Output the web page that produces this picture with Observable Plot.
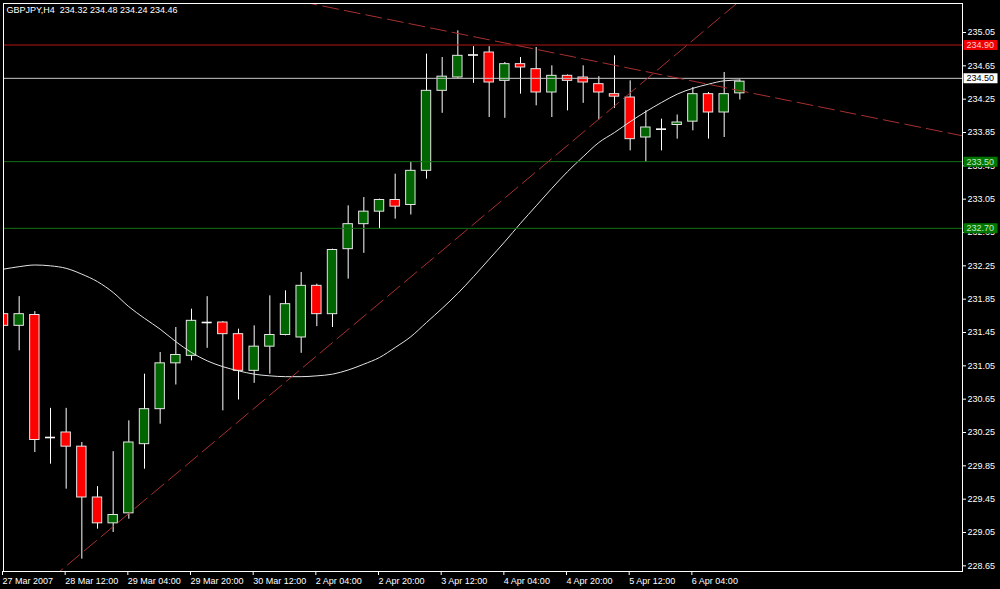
<!DOCTYPE html>
<html><head><meta charset="utf-8">
<script src="https://cdn.jsdelivr.net/npm/d3@7"></script>
<script src="https://cdn.jsdelivr.net/npm/@observablehq/plot@0.6"></script>
<style>html,body{margin:0;padding:0;background:#000;overflow:hidden}</style>
</head><body><div id="chart"></div>
<script>
// ---------- data ----------
const symbolName = "GBPJPY,H4";
const lastOHLC = [234.32, 234.48, 234.24, 234.46];

const opens  = [231.67,231.53,231.66,230.19,230.25,230.08,229.47,229.16,229.28,230.11,
                230.53,231.08,231.17,231.57,231.57,231.43,230.99,231.28,231.42,231.39,
                232.01,231.67,232.45,232.75,232.90,233.04,232.98,233.39,234.35,234.51,
                234.78,234.81,234.47,234.67,234.61,234.33,234.53,234.51,234.43,234.31,
                234.27,233.79,233.89,233.94,233.98,234.31,234.09,234.32];
const highs  = [231.92,231.88,231.70,230.54,230.54,230.13,229.60,230.02,230.39,230.95,
                231.21,231.51,231.73,231.88,231.58,231.49,231.53,231.89,231.95,232.17,
                232.03,232.45,232.97,233.07,233.05,233.35,233.49,234.79,234.75,235.07,
                234.88,234.88,234.69,234.75,234.87,234.65,234.54,234.65,234.52,234.77,
                234.47,234.11,234.01,234.06,234.39,234.33,234.57,234.48];
const lows   = [231.47,231.23,230.01,229.87,229.57,228.73,229.09,229.05,229.21,229.81,
                230.35,230.82,231.11,231.26,230.51,230.64,230.84,230.95,231.41,231.20,
                231.52,231.51,232.09,232.40,232.69,232.81,232.86,233.29,234.08,234.50,
                234.44,234.03,234.02,234.31,234.17,234.03,234.11,234.20,234.00,234.14,
                233.63,233.49,233.63,233.77,233.87,233.77,233.79,234.24];
const closes = [231.53,231.67,230.16,230.19,230.08,229.47,229.16,229.26,230.13,230.53,
                231.08,231.18,231.59,231.57,231.43,230.99,231.28,231.42,231.79,232.01,
                231.67,232.44,232.75,232.90,233.04,232.96,233.39,234.35,234.52,234.77,
                234.78,234.45,234.67,234.63,234.33,234.53,234.47,234.45,234.33,234.28,
                233.77,233.91,233.89,233.97,234.31,234.09,234.31,234.46];

// smooth indicator curve (one value per bar)
const curveValues = [232.21,232.24,232.26,232.25,232.22,232.15,232.06,231.93,231.76,231.62,
                     231.49,231.34,231.21,231.11,231.04,230.99,230.95,230.93,230.92,230.92,
                     230.93,230.95,231.00,231.07,231.15,231.27,231.40,231.57,231.74,231.92,
                     232.12,232.33,232.54,232.76,232.97,233.18,233.38,233.56,233.73,233.85,
                     233.98,234.10,234.21,234.31,234.38,234.43,234.47,234.48];

const xTickBars   = [0,4,8,12,16,20,24,28,32,36,40,44];
const xTickLabels = ["27 Mar 2007","28 Mar 12:00","29 Mar 04:00","29 Mar 20:00","30 Mar 12:00",
                     "2 Apr 04:00","2 Apr 20:00","3 Apr 12:00","4 Apr 04:00","4 Apr 20:00",
                     "5 Apr 12:00","6 Apr 04:00"];
const yTicks = [228.65,229.05,229.45,229.85,230.25,230.65,231.05,231.45,231.85,
                232.25,232.65,233.05,233.45,233.85,234.25,234.65,235.05];

const levelValues = [234.90, 233.50, 232.70];
const levelKinds  = ["red", "green", "green"];
const bidLevel = 234.50;

const trendUpBars = [3, 47],   trendUpPrices = [228.49, 235.43];
const trendDownBars = [19, 62], trendDownPrices = [235.42, 233.78];

// ---------- styling / layout ----------
const W = 1000, H = 589, mL = 3, mR = 38, mT = 3, mB = 18;
const pxPerBar = 15.667;
const xDomain = [0, (W - mL - mR) / pxPerBar];
const yDomain = [228.582, 235.398];
const BULL = "#006400", BEAR = "#ff0000", OUTLINE = "#e6e6e6";
const lineColor = {red: "#b41818", green: "#157015"};
const boxColor  = {red: "#ee0000", green: "#007800", white: "#ffffff"};
const boxText   = {red: "#ffd0d0", green: "#c8e8c8", white: "#000000"};

const bars = opens.map((o, i) => ({i, o, h: highs[i], l: lows[i], c: closes[i]}));
const bodies = bars.filter(d => d.o !== d.c);
const dojis = bars.filter(d => d.o === d.c);
const curve = curveValues.map((v, i) => ({i, v}));
const trendUp = trendUpBars.map((b, k) => ({b, p: trendUpPrices[k]}));
const trendDown = trendDownBars.map((b, k) => ({b, p: trendDownPrices[k]}));
const levels = levelValues.map((v, k) => ({v, kind: levelKinds[k]}));
const labels = [...levels, {v: bidLevel, kind: "white"}];
const title = symbolName + "\u00a0 " + lastOHLC.map(d => d.toFixed(2)).join(" ");

const boxSymbol = {draw(ctx) { ctx.moveTo(-17, -5); ctx.lineTo(17, -5); ctx.lineTo(17, 5); ctx.lineTo(-17, 5); ctx.closePath(); }};

const chart = Plot.plot({
  width: W, height: H,
  marginLeft: mL, marginRight: mR, marginTop: mT, marginBottom: mB,
  style: {background: "#000", color: "#fff", fontFamily: "'Liberation Sans', Arial, sans-serif", fontSize: "9px"},
  x: {type: "linear", domain: xDomain, axis: null},
  y: {type: "linear", domain: yDomain, axis: null},
  color: {type: "identity"},
  marks: [
    // wicks
    Plot.ruleX(bars, {x: "i", y1: "l", y2: "h", stroke: "#ffffff", strokeWidth: 1, clip: true}),
    // bodies
    Plot.rect(bodies, {x1: d => d.i - 0.3, x2: d => d.i + 0.3, y1: d => Math.min(d.o, d.c), y2: d => Math.max(d.o, d.c),
      fill: d => d.c > d.o ? BULL : BEAR, stroke: OUTLINE, strokeWidth: 1, clip: true}),
    // dojis
    Plot.ruleY(dojis, {y: "o", x1: d => d.i - 0.32, x2: d => d.i + 0.32, stroke: "#ffffff", strokeWidth: 1.6, clip: true}),
    // indicator curve
    Plot.line(curve, {x: "i", y: "v", stroke: "#e4e4e4", strokeWidth: 1, curve: "monotone-x", clip: true}),
    // horizontal levels
    Plot.ruleY(levels, {y: "v", stroke: d => lineColor[d.kind], strokeWidth: 1}),
    Plot.ruleY([bidLevel], {stroke: "#c8c8c8", strokeWidth: 1}),
    // trend lines
    Plot.line(trendUp, {x: "b", y: "p", stroke: "#a83030", strokeWidth: 1, strokeDasharray: "16,6", clip: true}),
    Plot.line(trendDown, {x: "b", y: "p", stroke: "#a83030", strokeWidth: 1, strokeDasharray: "16,6", clip: true}),
    // frame and axes
    Plot.frame({stroke: "#ffffff", strokeWidth: 1}),
    Plot.axisY({anchor: "right", ticks: yTicks, tickSize: 3, tickPadding: 2, tickFormat: d => d.toFixed(2), label: null, stroke: "#fff", fill: "#fff"}),
    Plot.axisX({anchor: "bottom", ticks: xTickBars, tickSize: 4, tickPadding: 2, textAnchor: "start", dx: -1,
      tickFormat: d => xTickLabels[xTickBars.indexOf(d)], label: null, stroke: "#fff", fill: "#fff"}),
    // price labels on the scale
    Plot.dot(labels, {y: "v", frameAnchor: "right", dx: 18, symbol: boxSymbol, r: 5, fill: d => boxColor[d.kind], stroke: "none"}),
    Plot.text(labels, {y: "v", frameAnchor: "right", dx: 4, textAnchor: "start", text: d => d.v.toFixed(2), fill: d => boxText[d.kind]}),
    // title
    Plot.text([title], {frameAnchor: "top-left", dx: 3, dy: 3, text: d => d, fill: "#fff", textAnchor: "start", lineAnchor: "top"})
  ]
});
document.getElementById("chart").appendChild(chart);
</script>
</body></html>
